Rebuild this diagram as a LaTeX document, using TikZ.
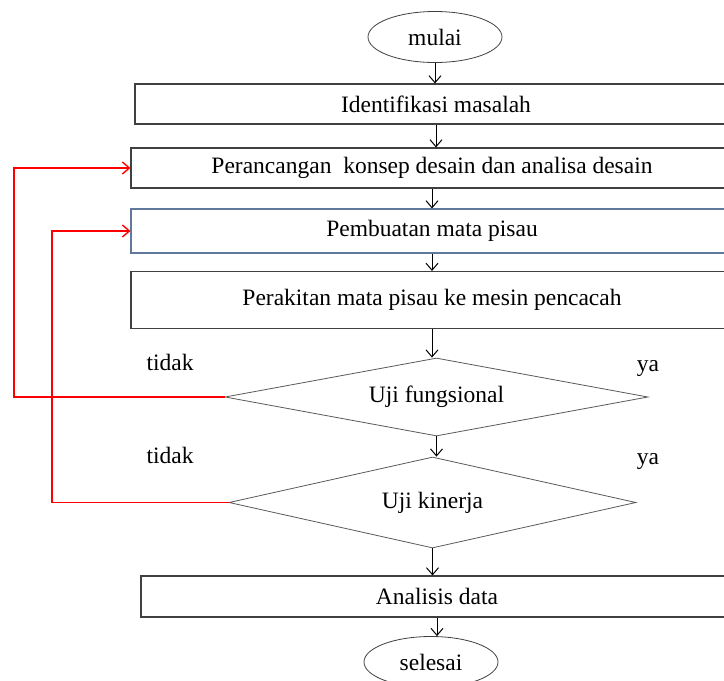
\documentclass[tikz,border=0pt]{standalone}
\usepackage{fontspec}
\setmainfont{Liberation Serif}
\usetikzlibrary{shapes.geometric,arrows.meta}
\definecolor{garisbiru}{RGB}{95,120,155}

\begin{document}
\begin{tikzpicture}[x=1pt,y=-1pt,>={Straight Barb[length=7pt,width=12pt]},
        font=\fontsize{23.5}{28}\selectfont,
        proses/.style={rectangle, draw=black!75, line width=1.1pt, minimum width=602pt, minimum height=40pt, inner sep=0pt},
        terminal/.style={ellipse, draw=black!75, line width=0.8pt, minimum width=134pt, minimum height=51pt, inner sep=0pt},
        keputusan/.style={diamond, draw=black!65, line width=0.8pt, inner sep=0pt},
        label/.style={anchor=base, inner sep=0pt},
        balik/.style={draw=red, line width=1.4pt, ->}]
        \useasboundingbox (0,0) rectangle (724,681);
        \clip (0,0) rectangle (724,681);
        \node (mulai) at (435,37) [terminal] {mulai};
        \node (b1) at (436,104) [proses] {Identifikasi masalah};
        \node (b2) at (432,168) [proses] {Perancangan\ \ konsep desain dan analisa desain};
        \node (b3) at (432,231) [proses, minimum height=44pt, draw=garisbiru] {Pembuatan mata pisau};
        \node (b4) at (432,300) [proses, minimum height=57pt] {Perakitan mata pisau ke mesin pencacah};
        \node (u1) at (436.5,397) [keputusan, aspect=5.4, minimum width=423pt, minimum height=78pt] {Uji fungsional};
        \node (u2) at (432.5,502.5) [keputusan, aspect=4.5, minimum width=407pt, minimum height=91pt] {Uji kinerja};
        \node (b5) at (437,596.5) [proses, minimum width=592pt, minimum height=41pt] {Analisis data};
        \node (selesai) at (431,662) [terminal] {selesai};
        \node (t1) at (170,370) [label] {tidak};
        \node (y1) at (648,371) [label] {ya};
        \node (t2) at (170,463) [label] {tidak};
        \node (y2) at (648,464) [label] {ya};
        \coordinate (kiri1) at (14,0);
        \coordinate (kiri2) at (52,0);
        \draw[->, line width=1pt] (mulai.south) -- (mulai.south |- b1.north);
        \draw[->, line width=1pt] (b1.south) -- (b1.south |- b2.north);
        \draw[->, line width=1pt] (b2.south) -- (b2.south |- b3.north);
        \draw[->, line width=1pt] (b3.south) -- (b3.south |- b4.north);
        \draw[->, line width=1pt] (b4.south) -- (b4.south |- u1.north);
        \draw[->, line width=1pt] (u1.south) -- (u1.south |- u2.north);
        \draw[->, line width=1pt] (u2.south) -- (u2.south |- b5.north);
        \draw[->, line width=1pt] (b5.south) -- (b5.south |- selesai.north);
        \draw[balik] (u1.west) -- (u1.west -| kiri1) |- (b2.west);
        \draw[balik] (u2.west) -- (u2.west -| kiri2) |- (b3.west);

    \end{tikzpicture}
\end{document}
